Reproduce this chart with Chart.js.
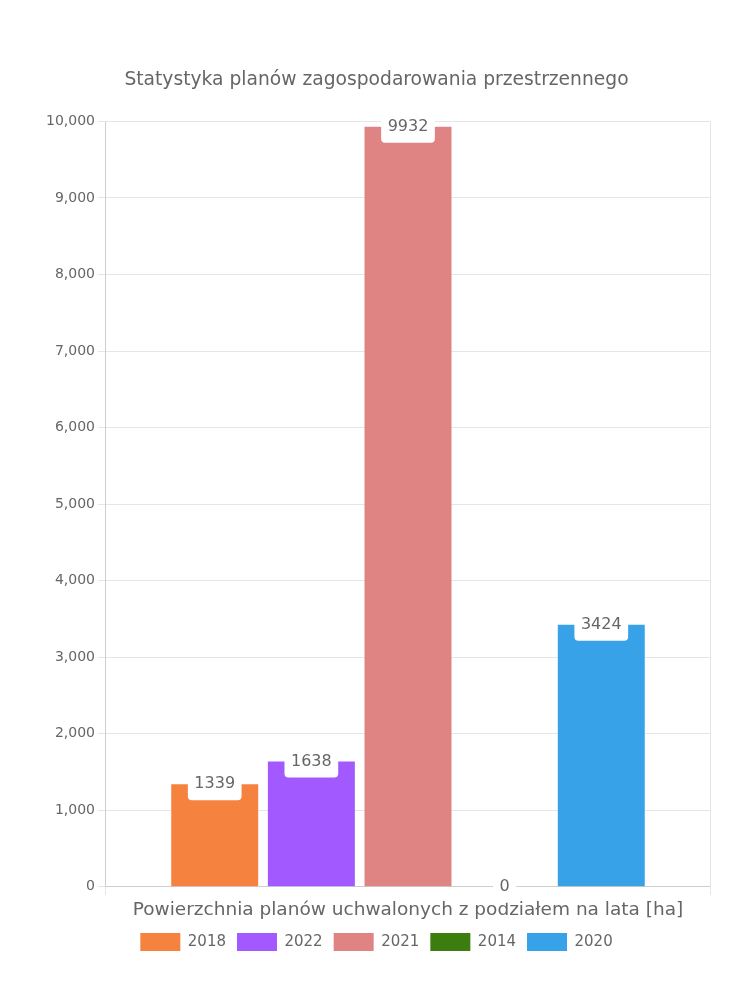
<!DOCTYPE html>
<html>
<head>
<meta charset="utf-8">
<script src="https://cdn.jsdelivr.net/npm/chart.js@4.4.0/dist/chart.umd.min.js"></script>
<style>
  html, body { margin: 0; padding: 0; background: #ffffff; }
  #wrap { width: 750px; height: 1000px; }
</style>
</head>
<body>
<div id="wrap"><canvas id="c" width="750" height="1000"></canvas></div>
<script>
const categories = [''];
const seriesLabels = ['2018', '2022', '2021', '2014', '2020'];
const values2018 = [1339];
const values2022 = [1638];
const values2021 = [9932];
const values2014 = [0];
const values2020 = [3424];
const seriesColors = ['#F5833F', '#A259FF', '#E08383', '#3B7D0F', '#38A2E8'];
const chartTitle = 'Statystyka planów zagospodarowania przestrzennego';
const xAxisTitle = 'Powierzchnia planów uchwalonych z podziałem na lata [ha]';
const yMin = 0, yMax = 10000, yStep = 1000;

const FONT = "'DejaVu Sans', sans-serif";
const TEXT = '#666666';

const seriesValues = [values2018, values2022, values2021, values2014, values2020];

const labelPlugin = {
  id: 'barLabels',
  afterDatasetsDraw(chart) {
    const ctx = chart.ctx;
    ctx.save();
    ctx.font = "16px " + FONT;
    ctx.textAlign = 'center';
    ctx.textBaseline = 'middle';
    chart.data.datasets.forEach((ds, i) => {
      const meta = chart.getDatasetMeta(i);
      if (meta.hidden) return;
      meta.data.forEach((bar, j) => {
        const v = ds.data[j];
        const txt = String(v);
        const w = ctx.measureText(txt).width + 13;
        const h = 32;
        const x = bar.x - w / 2;
        const y = bar.y - h / 2;
        ctx.fillStyle = '#ffffff';
        ctx.beginPath();
        ctx.roundRect(x, y, w, h, 4);
        ctx.fill();
        ctx.fillStyle = TEXT;
        ctx.fillText(txt, bar.x, bar.y);
      });
    });
    ctx.restore();
  }
};

new Chart(document.getElementById('c'), {
  type: 'bar',
  data: {
    labels: categories,
    datasets: seriesLabels.map((lab, i) => ({
      label: lab,
      data: seriesValues[i],
      backgroundColor: seriesColors[i],
      borderColor: seriesColors[i],
      borderWidth: 0
    }))
  },
  options: {
    responsive: false,
    animation: false,
    layout: { padding: { left: 43, right: 40, top: 69, bottom: 39 } },
    plugins: {
      title: {
        display: true,
        text: chartTitle,
        color: TEXT,
        font: { family: FONT, size: 18.7, weight: 'normal' },
        padding: { top: 0, bottom: 30 }
      },
      legend: {
        position: 'bottom',
        labels: {
          color: TEXT,
          font: { family: FONT, size: 15 },
          boxWidth: 40,
          boxHeight: 18,
          padding: 11
        }
      },
      tooltip: { enabled: false }
    },
    scales: {
      x: {
        ticks: { display: false },
        grid: { color: 'rgba(0,0,0,0.1)' },
        title: {
          display: true,
          text: xAxisTitle,
          color: TEXT,
          font: { family: FONT, size: 18.5 },
          padding: { top: 4, bottom: 1 }
        }
      },
      y: {
        min: yMin,
        max: yMax,
        ticks: {
          stepSize: yStep,
          color: TEXT,
          font: { family: FONT, size: 14 }
        },
        grid: { color: 'rgba(0,0,0,0.1)' }
      }
    }
  },
  plugins: [labelPlugin]
});
</script>
</body>
</html>
